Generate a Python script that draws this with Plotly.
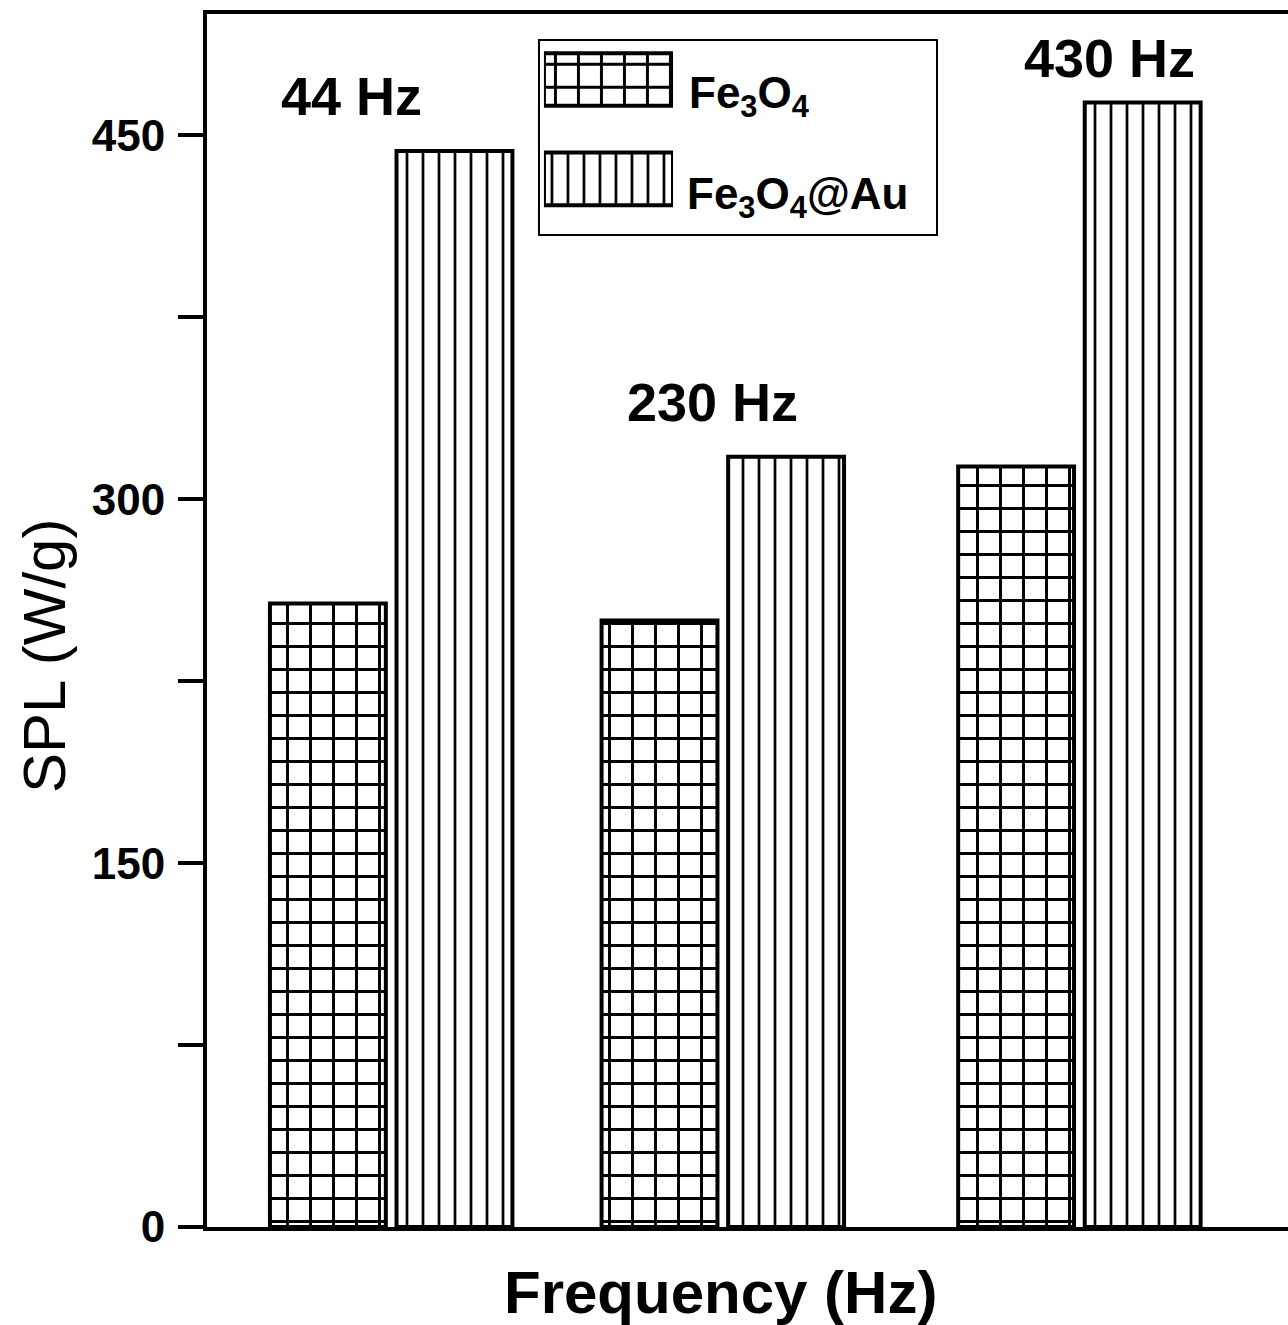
import plotly.graph_objects as go

# ---- data ----
freqs = [44, 230, 430]
freq_labels = ["44 Hz", "230 Hz", "430 Hz"]
fe3o4 = [257, 250, 313.5]
fe3o4_au = [443.5, 317.5, 463.5]
series_names = ["Fe<sub>3</sub>O<sub>4</sub>", "Fe<sub>3</sub>O<sub>4</sub>@Au"]
y_tickvals = [0, 150, 300, 450]
y_ticktext = ["0", "150", "300", "450"]
y_minorvals = [75, 225, 375]

FONT = "Liberation Sans, Arial, sans-serif"

grid_marker = dict(
    color="white",
    line=dict(color="black", width=4),
    pattern=dict(shape="+", size=23, solidity=0.24, fgcolor="black",
                 bgcolor="white", fillmode="replace"),
)
vert_marker = dict(
    color="white",
    line=dict(color="black", width=4),
    pattern=dict(shape="|", size=16, solidity=0.17, fgcolor="black",
                 bgcolor="white", fillmode="replace"),
)

fig = go.Figure()
fig.add_trace(go.Bar(x=freqs, y=fe3o4, name=series_names[0], width=65, offset=-68,
                     marker=grid_marker, showlegend=False))
fig.add_trace(go.Bar(x=freqs, y=fe3o4_au, name=series_names[1], width=65, offset=3,
                     marker=vert_marker, showlegend=False))

# legend swatches on a small helper axis
fig.add_trace(go.Bar(x=[1], y=[series_names[0]], orientation="h", width=0.53,
                     marker=grid_marker, xaxis="x2", yaxis="y2", showlegend=False))
fig.add_trace(go.Bar(x=[1], y=[series_names[1]], orientation="h", width=0.53,
                     marker=vert_marker, xaxis="x2", yaxis="y2", showlegend=False))

annotations = []
label_pos = [(22, 466), (224, 340), (447, 482)]
for lab, (ax_, ay_) in zip(freq_labels, label_pos):
    annotations.append(dict(x=ax_, y=ay_, xref="x", yref="y", text=f"<b>{lab}</b>",
                            xanchor="center", yanchor="middle",
                            showarrow=False, font=dict(family=FONT, size=54, color="black")))

annotations.append(dict(x=0.444, y=0.932, xref="paper", yref="paper", xanchor="left",
                        yanchor="middle", text=f"<b>{series_names[0]}</b>", showarrow=False,
                        font=dict(family=FONT, size=44, color="black")))
annotations.append(dict(x=0.442, y=0.849, xref="paper", yref="paper", xanchor="left",
                        yanchor="middle", text=f"<b>{series_names[1]}</b>", showarrow=False,
                        font=dict(family=FONT, size=44, color="black")))

# axis titles
annotations.append(dict(x=0.4746, y=-0.0544, xref="paper", yref="paper",
                        xanchor="center", yanchor="middle",
                        text="<b>Frequency (Hz)</b>", showarrow=False,
                        font=dict(family=FONT, size=60, color="black")))
annotations.append(dict(x=-0.1508, y=0.4707, xref="paper", yref="paper",
                        xanchor="center", yanchor="middle",
                        text="SPL (W/g)", textangle=-90, showarrow=False,
                        font=dict(family=FONT, size=60, color="black")))

fig.update_layout(
    width=1288, height=1325,
    margin=dict(l=207, r=0, t=14, b=98),
    paper_bgcolor="white", plot_bgcolor="white",
    barmode="overlay",
    annotations=annotations,
    shapes=[dict(type="rect", xref="paper", yref="paper", x0=0.3071, x1=0.6753,
                 y0=0.8178, y1=0.9786, line=dict(color="black", width=2),
                 fillcolor="rgba(0,0,0,0)", layer="above")],
    xaxis=dict(range=[-59.3, 547], showticklabels=False, ticks="", showgrid=False,
               zeroline=False, showline=True, linecolor="black", linewidth=4, mirror=True),
    yaxis=dict(range=[0, 500], tickvals=y_tickvals, ticktext=y_ticktext, ticks="outside",
               ticklen=25, tickwidth=4, tickcolor="black", showline=True, linecolor="black",
               linewidth=4, showgrid=False, zeroline=False, ticklabelstandoff=4,
               tickfont=dict(family=FONT, size=44, color="black", weight="bold"),
               minor=dict(tickvals=y_minorvals, ticks="outside", ticklen=25, tickwidth=4,
                          tickcolor="black", showgrid=False)),
    xaxis2=dict(domain=[0.3117, 0.4311], range=[0, 1], visible=False, anchor="y2"),
    yaxis2=dict(domain=[0.8230, 0.9870], type="category", categoryorder="array",
                categoryarray=series_names, range=[1.5, -0.5], visible=False, anchor="x2"),
)

fig.write_html("out.html")
